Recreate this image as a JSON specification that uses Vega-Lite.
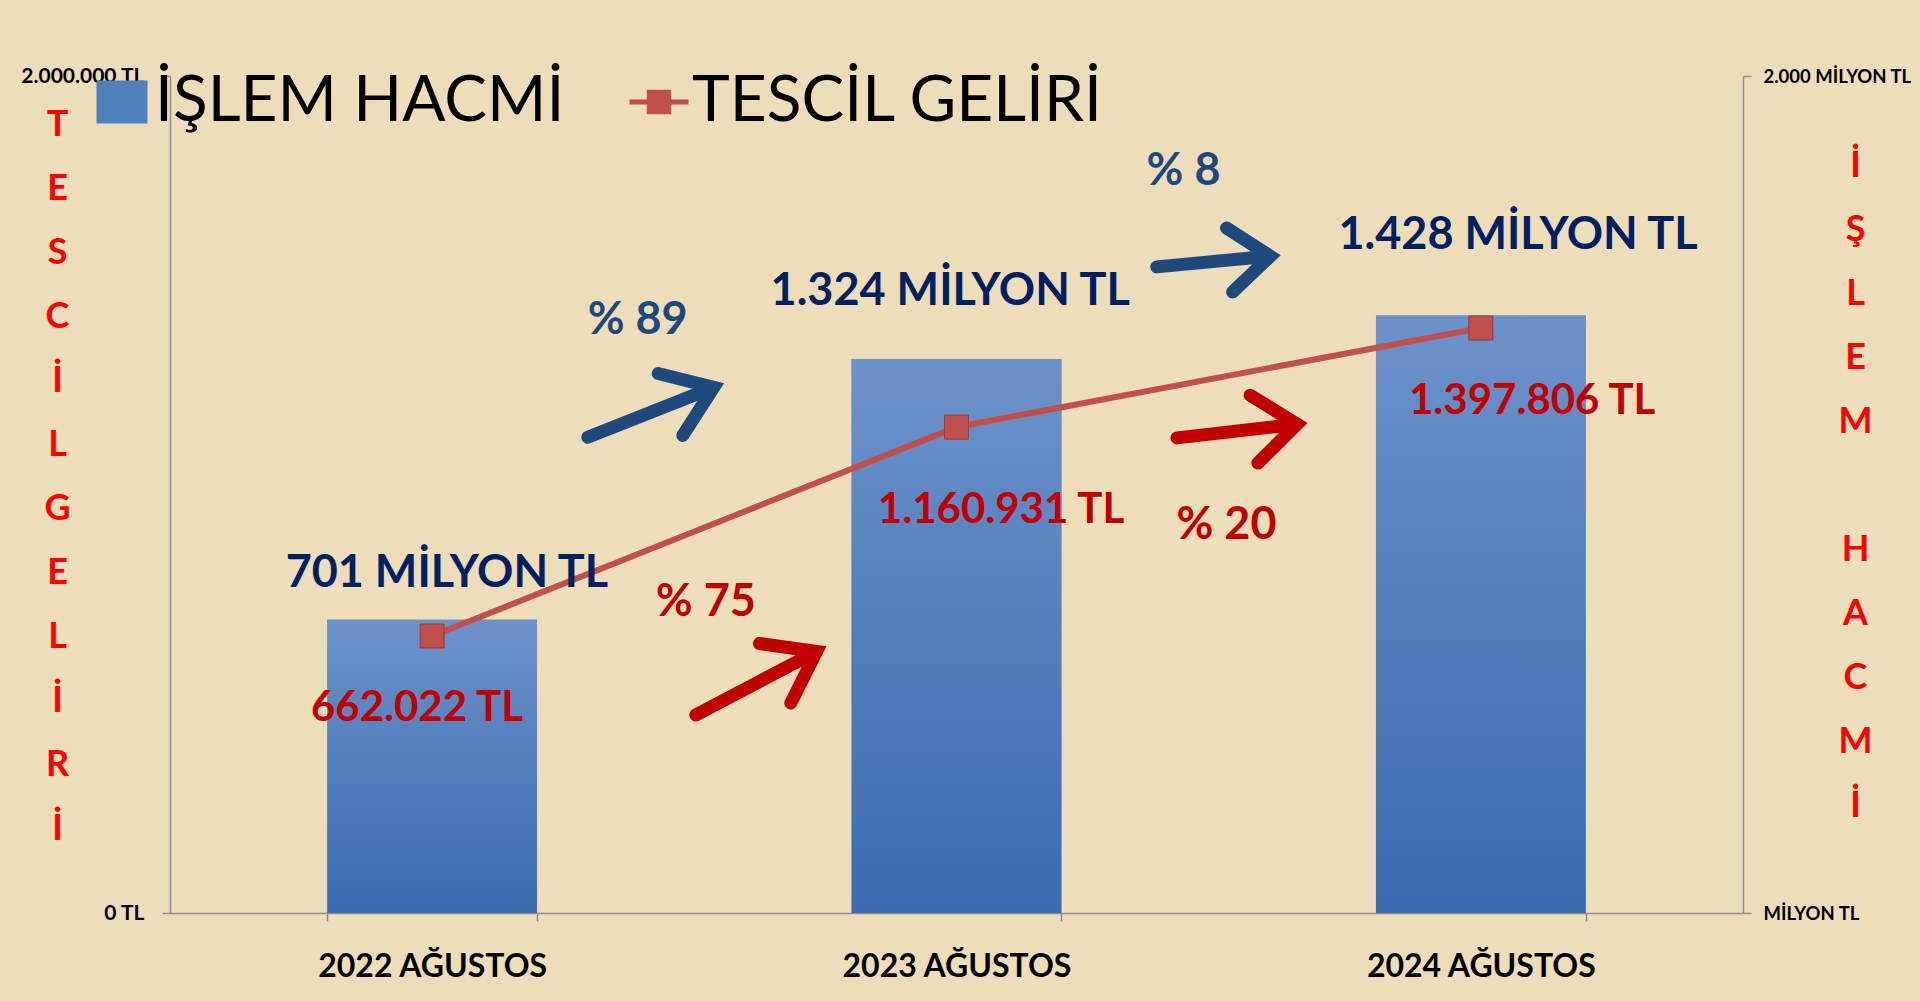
{
  "$schema": "https://vega.github.io/schema/vega-lite/v6.json",
  "width": 1573,
  "height": 837,
  "autosize": {"type": "none"},
  "padding": {"left": 170, "top": 76, "right": 177, "bottom": 88},
  "background": "#EEDDBA",
  "config": {
    "view": {"stroke": null},
    "font": "Lato",
    "axis": {
      "grid": false,
      "domainColor": "#8E8E8E",
      "domainWidth": 1.5,
      "tickColor": "#8E8E8E",
      "tickWidth": 1.5,
      "tickSize": 8,
      "labelFont": "Lato",
      "labelFontWeight": "bold",
      "labelColor": "#000000",
      "labelLimit": 0,
      "titleFont": "Lato"
    }
  },
  "datasets": {
    "ana": [
      {"yil": "2022 AĞUSTOS", "islem": 701, "tescil": 662022},
      {"yil": "2023 AĞUSTOS", "islem": 1324, "tescil": 1160931},
      {"yil": "2024 AĞUSTOS", "islem": 1428, "tescil": 1397806}
    ],
    "islemEtiket": [
      {"x": 0.528, "y": 812, "t": "701 MİLYON TL"},
      {"x": 1.488, "y": 1486, "t": "1.324 MİLYON TL"},
      {"x": 2.571, "y": 1621, "t": "1.428 MİLYON TL"}
    ],
    "tescilEtiket": [
      {"x": 0.471, "y": 491, "t": "662.022 TL"},
      {"x": 1.585, "y": 962, "t": "1.160.931 TL"},
      {"x": 2.598, "y": 1223, "t": "1.397.806 TL"}
    ],
    "islemYuzde": [
      {"x": 0.892, "y": 1418, "t": "% 89"},
      {"x": 1.933, "y": 1772, "t": "% 8"}
    ],
    "tescilYuzde": [
      {"x": 1.022, "y": 743, "t": "% 75"},
      {"x": 2.015, "y": 927, "t": "% 20"}
    ],
    "oklar": [
      {"seri": "İŞLEM HACMİ", "donem": "2022-2023", "x": 0.92, "y": 1198},
      {"seri": "TESCİL GELİRİ", "donem": "2022-2023", "x": 1.121, "y": 551},
      {"seri": "İŞLEM HACMİ", "donem": "2023-2024", "x": 1.993, "y": 1557},
      {"seri": "TESCİL GELİRİ", "donem": "2023-2024", "x": 2.038, "y": 1152}
    ]
  },
  "layer": [
    {
      "data": {"name": "ana"},
      "mark": {"type": "bar"},
      "encoding": {
        "x": {
          "field": "yil", "type": "nominal",
          "scale": {"paddingInner": 0.6, "paddingOuter": 0.3},
          "axis": {"title": null, "labelAngle": 0, "labelFontSize": 32, "labelPadding": 30, "labelLimit": 0, "tickBand": "extent"}
        },
        "y": {
          "field": "islem", "type": "quantitative",
          "scale": {"domain": [0, 2000], "nice": false},
          "axis": {
            "orient": "right",
            "values": [0, 2000],
            "labelExpr": "datum.value == 0 ? 'MİLYON TL' : '2.000 MİLYON TL'",
            "labelFontSize": 18.5,
            "labelPadding": 12,
            "title": ["İ", "Ş", "L", "E", "M", "\u200b", "H", "A", "C", "M", "İ"],
            "titleAngle": 0,
            "titleAlign": "center",
            "titleBaseline": "top",
            "titleX": 112,
            "titleY": 72,
            "titleLineHeight": 64,
            "titleFontSize": 36,
            "titleFontWeight": "bold",
            "titleColor": "#FF0000"
          }
        },
        "fill": {
          "datum": "İŞLEM HACMİ", "type": "nominal",
          "scale": {"range": ["#4F81BD"]},
          "legend": {
            "orient": "none", "legendX": -80, "legendY": -6,
            "title": null, "padding": 0,
            "symbolType": "M-1,-0.84L1,-0.84L1,0.84L-1,0.84Z",
            "symbolSize": 2601,
            "symbolStrokeWidth": 0,
            "labelFont": "Lato", "labelFontSize": 64, "labelFontWeight": "normal",
            "labelColor": "#000000", "labelLimit": 1000, "labelOffset": 1,
            "encode": {"symbols": {"update": {"fill": {"value": {"gradient": "linear", "x1": 0, "y1": 0, "x2": 0, "y2": 1, "stops": [{"offset": 0, "color": "#6C92CA"}, {"offset": 1, "color": "#3A6BB0"}]}}}}}
          }
        }
      }
    },
    {
      "data": {"name": "ana"},
      "mark": {"type": "bar", "fill": {"gradient": "linear", "x1": 0, "y1": 0, "x2": 0, "y2": 1, "stops": [{"offset": 0, "color": "#6C92CA"}, {"offset": 1, "color": "#3A6BB0"}]}},
      "encoding": {
        "x": {"field": "yil", "type": "nominal", "scale": {"paddingInner": 0.6, "paddingOuter": 0.3}, "axis": null},
        "y": {"field": "islem", "type": "quantitative", "scale": {"domain": [0, 2000], "nice": false}, "axis": null}
      }
    },
    {
      "data": {"name": "ana"},
      "mark": {"type": "line", "strokeWidth": 6},
      "encoding": {
        "x": {"field": "yil", "type": "nominal", "axis": null},
        "y": {
          "field": "tescil", "type": "quantitative",
          "scale": {"domain": [0, 2000000], "nice": false},
          "axis": {
            "orient": "left",
            "values": [0, 2000000],
            "labelExpr": "datum.value == 0 ? '0 TL' : '2.000.000 TL'",
            "labelFontSize": 21,
            "labelPadding": 18,
            "title": ["T", "E", "S", "C", "İ", "L", "G", "E", "L", "İ", "R", "İ"],
            "titleAngle": 0,
            "titleAlign": "center",
            "titleBaseline": "top",
            "titleX": -113,
            "titleY": 31,
            "titleLineHeight": 64,
            "titleFontSize": 36,
            "titleFontWeight": "bold",
            "titleColor": "#FF0000"
          }
        },
        "stroke": {
          "datum": "TESCİL GELİRİ", "type": "nominal",
          "scale": {"range": ["#C0504D"]},
          "legend": {
            "orient": "none", "legendX": 457, "legendY": -6,
            "title": null, "padding": 0,
            "symbolType": "M-1,0L1,0M-0.33,-0.33L0.33,-0.33L0.33,0.33L-0.33,0.33Z",
            "symbolSize": 3481,
            "symbolStrokeWidth": 5,
            "labelFont": "Lato", "labelFontSize": 64, "labelFontWeight": "normal",
            "labelColor": "#000000", "labelLimit": 1000, "labelOffset": 1,
            "encode": {"symbols": {"update": {"fill": {"value": "#C0504D"}, "stroke": {"value": "#C0504D"}}}}
          }
        }
      }
    },
    {
      "data": {"name": "ana"},
      "mark": {"type": "point", "shape": "square", "filled": true, "size": 576, "opacity": 1, "color": "#C0504D", "stroke": "#9E3A37", "strokeWidth": 1},
      "encoding": {
        "x": {"field": "yil", "type": "nominal", "axis": null},
        "y": {"field": "tescil", "type": "quantitative", "scale": {"domain": [0, 2000000], "nice": false}, "axis": null}
      }
    },
    {
      "data": {"name": "islemEtiket"},
      "mark": {"type": "text", "font": "Lato", "fontWeight": "bold", "fontSize": 45, "color": "#002060", "align": "center", "baseline": "middle"},
      "encoding": {
        "x": {"field": "x", "type": "quantitative", "scale": {"domain": [0, 3], "nice": false}, "axis": null},
        "y": {"field": "y", "type": "quantitative", "scale": {"domain": [0, 2000], "nice": false}, "axis": null},
        "text": {"field": "t"}
      }
    },
    {
      "data": {"name": "tescilEtiket"},
      "mark": {"type": "text", "font": "Lato", "fontWeight": "bold", "fontSize": 42, "color": "#C00000", "align": "center", "baseline": "middle"},
      "encoding": {
        "x": {"field": "x", "type": "quantitative", "scale": {"domain": [0, 3], "nice": false}, "axis": null},
        "y": {"field": "y", "type": "quantitative", "scale": {"domain": [0, 2000], "nice": false}, "axis": null},
        "text": {"field": "t"}
      }
    },
    {
      "data": {"name": "islemYuzde"},
      "mark": {"type": "text", "font": "Lato", "fontWeight": "bold", "fontSize": 45, "color": "#1F497D", "align": "center", "baseline": "middle"},
      "encoding": {
        "x": {"field": "x", "type": "quantitative", "scale": {"domain": [0, 3], "nice": false}, "axis": null},
        "y": {"field": "y", "type": "quantitative", "scale": {"domain": [0, 2000], "nice": false}, "axis": null},
        "text": {"field": "t"}
      }
    },
    {
      "data": {"name": "tescilYuzde"},
      "mark": {"type": "text", "font": "Lato", "fontWeight": "bold", "fontSize": 45, "color": "#C00000", "align": "center", "baseline": "middle"},
      "encoding": {
        "x": {"field": "x", "type": "quantitative", "scale": {"domain": [0, 3], "nice": false}, "axis": null},
        "y": {"field": "y", "type": "quantitative", "scale": {"domain": [0, 2000], "nice": false}, "axis": null},
        "text": {"field": "t"}
      }
    },
    {
      "data": {"name": "oklar"},
      "transform": [{"filter": "datum.seri == 'İŞLEM HACMİ' && datum.donem == '2022-2023'"}],
      "mark": {"type": "point", "shape": "M-1,0L0.92,0M0.28,-0.48L0.95,0L0.28,0.48", "size": 19321, "angle": -21.6, "filled": false, "opacity": 1, "stroke": "#1F497D", "strokeWidth": 13, "strokeCap": "round", "strokeJoin": "miter"},
      "encoding": {
        "x": {"field": "x", "type": "quantitative", "scale": {"domain": [0, 3], "nice": false}, "axis": null},
        "y": {"field": "y", "type": "quantitative", "scale": {"domain": [0, 2000], "nice": false}, "axis": null}
      }
    },
    {
      "data": {"name": "oklar"},
      "transform": [{"filter": "datum.seri == 'TESCİL GELİRİ' && datum.donem == '2022-2023'"}],
      "mark": {"type": "point", "shape": "M-1,0L0.92,0M0.28,-0.48L0.95,0L0.28,0.48", "size": 19600, "angle": -27.7, "filled": false, "opacity": 1, "stroke": "#C00000", "strokeWidth": 13, "strokeCap": "round", "strokeJoin": "miter"},
      "encoding": {
        "x": {"field": "x", "type": "quantitative", "scale": {"domain": [0, 3], "nice": false}, "axis": null},
        "y": {"field": "y", "type": "quantitative", "scale": {"domain": [0, 2000], "nice": false}, "axis": null}
      }
    },
    {
      "data": {"name": "oklar"},
      "transform": [{"filter": "datum.seri == 'İŞLEM HACMİ' && datum.donem == '2023-2024'"}],
      "mark": {"type": "point", "shape": "M-1,0L0.92,0M0.25,-0.55L0.95,0L0.25,0.55", "size": 13689, "angle": -5.4, "filled": false, "opacity": 1, "stroke": "#1F497D", "strokeWidth": 13, "strokeCap": "round", "strokeJoin": "miter"},
      "encoding": {
        "x": {"field": "x", "type": "quantitative", "scale": {"domain": [0, 3], "nice": false}, "axis": null},
        "y": {"field": "y", "type": "quantitative", "scale": {"domain": [0, 2000], "nice": false}, "axis": null}
      }
    },
    {
      "data": {"name": "oklar"},
      "transform": [{"filter": "datum.seri == 'TESCİL GELİRİ' && datum.donem == '2023-2024'"}],
      "mark": {"type": "point", "shape": "M-1,0L0.92,0M0.25,-0.55L0.95,0L0.25,0.55", "size": 15376, "angle": -6.5, "filled": false, "opacity": 1, "stroke": "#C00000", "strokeWidth": 13, "strokeCap": "round", "strokeJoin": "miter"},
      "encoding": {
        "x": {"field": "x", "type": "quantitative", "scale": {"domain": [0, 3], "nice": false}, "axis": null},
        "y": {"field": "y", "type": "quantitative", "scale": {"domain": [0, 2000], "nice": false}, "axis": null}
      }
    }
  ],
  "resolve": {
    "scale": {"x": "independent", "y": "independent"},
    "axis": {"x": "independent", "y": "independent"}
  }
}
